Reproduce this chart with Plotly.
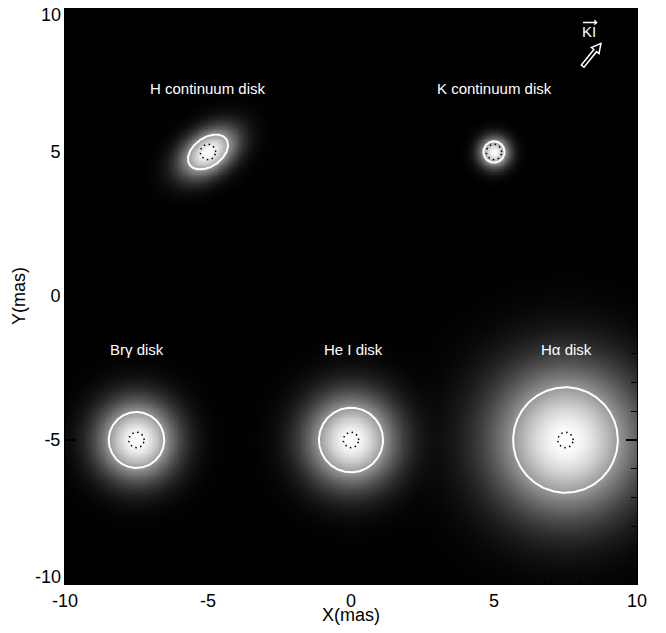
import numpy as np
import plotly.graph_objects as go

# ---- data ----
disk_names = ["H continuum disk", "K continuum disk", "Br\u03b3 disk", "He I disk", "H\u03b1 disk"]
disk_x = [-5.0, 5.0, -7.5, 0.0, 7.5]          # mas
disk_y = [5.0, 5.0, -5.0, -5.0, -5.0]         # mas
disk_major = [0.78, 0.37, 0.97, 1.12, 1.83]   # HWHM semi-major (mas)
disk_minor = [0.50, 0.37, 0.97, 1.12, 1.83]   # HWHM semi-minor (mas)
disk_pa = [35.0, 0.0, 0.0, 0.0, 0.0]          # deg from +x
star_radius = [0.27, 0.27, 0.27, 0.27, 0.27]  # dotted circle (mas)
label_x = [-5.0, 5.0, -7.5, 0.1, 7.55]
label_y = [7.2, 7.2, -1.85, -1.85, -1.85]
tick_vals = [-10, -5, 0, 5, 10]
tick_text = ["-10", "-5", "0", "5", "10"]
ki_tail = (8.10, 7.98)
ki_tip = (8.74, 8.77)

FONT = "Liberation Sans, Arial, Helvetica"

# ---- image ----
N = 401
gx = np.linspace(-10, 10, N)
gy = np.linspace(-10, 10, N)
X, Y = np.meshgrid(gx, gy)
img = np.zeros_like(X)
for cx, cy, a, b, pa in zip(disk_x, disk_y, disk_major, disk_minor, disk_pa):
    t = np.deg2rad(pa)
    u = (X - cx) * np.cos(t) + (Y - cy) * np.sin(t)
    v = -(X - cx) * np.sin(t) + (Y - cy) * np.cos(t)
    img += np.exp(-np.log(2) * ((u / a) ** 2 + (v / b) ** 2))
img = np.clip(img, 0, 1) ** 0.75

fig = go.Figure()
fig.add_trace(go.Heatmap(x=gx, y=gy, z=img, zmin=0, zmax=1,
                         colorscale=[[0, "black"], [1, "white"]],
                         showscale=False, zsmooth="best", hoverinfo="skip"))

th = np.linspace(0, 2 * np.pi, 241)
for cx, cy, a, b, pa, rs in zip(disk_x, disk_y, disk_major, disk_minor, disk_pa, star_radius):
    t = np.deg2rad(pa)
    ex = cx + a * np.cos(th) * np.cos(t) - b * np.sin(th) * np.sin(t)
    ey = cy + a * np.cos(th) * np.sin(t) + b * np.sin(th) * np.cos(t)
    fig.add_trace(go.Scatter(x=ex, y=ey, mode="lines",
                             line=dict(color="white", width=2), showlegend=False, hoverinfo="skip"))
    fig.add_trace(go.Scatter(x=cx + rs * np.cos(th), y=cy + rs * np.sin(th), mode="lines",
                             line=dict(color="black", width=1.5, dash="1.5px,3.5px"),
                             showlegend=False, hoverinfo="skip"))

for name, lx, ly in zip(disk_names, label_x, label_y):
    fig.add_annotation(x=lx, y=ly, text=name, showarrow=False,
                       font=dict(family=FONT, size=15, color="white"))

# hollow arrow (KI baseline direction)
tx, ty = ki_tail
hx, hy = ki_tip
d = np.array([hx - tx, hy - ty]); L = np.linalg.norm(d); d = d / L
n = np.array([-d[1], d[0]])
w, hw, hl = 0.06, 0.17, 0.32
tail = np.array([tx, ty]); tip = np.array([hx, hy]); neck = tip - d * hl
pts = [tail + n * w, neck + n * w, neck + n * hw, tip, neck - n * hw, neck - n * w, tail - n * w]
path = "M " + " L ".join(f"{p[0]:.4f},{p[1]:.4f}" for p in pts) + " Z"
fig.add_shape(type="path", path=path, xref="x", yref="y",
              line=dict(color="white", width=1.5), fillcolor="black")
fig.add_annotation(x=8.33, y=9.18, text="KI", showarrow=False,
                   font=dict(family=FONT, size=15, color="white"))
fig.add_annotation(x=8.62, y=9.50, ax=8.06, ay=9.50, axref="x", ayref="y", xref="x", yref="y",
                   text="", showarrow=True, arrowhead=1, arrowsize=0.7, arrowwidth=1.5,
                   arrowcolor="white")

# axis titles as paper annotations
fig.add_annotation(x=0.5, y=-0.0538, xref="paper", yref="paper", text="X(mas)", showarrow=False,
                   xanchor="center", yanchor="middle", font=dict(family=FONT, size=18, color="black"))
fig.add_annotation(x=-0.0805, y=0.5, xref="paper", yref="paper", text="Y(mas)", showarrow=False,
                   textangle=-90, xanchor="center", yanchor="middle",
                   font=dict(family=FONT, size=18, color="black"))

# y end labels nudged inward (as in reference)
fig.add_annotation(x=-0.004, y=0.988, xref="paper", yref="paper", text=tick_text[-1], showarrow=False,
                   xanchor="right", yanchor="middle", font=dict(family=FONT, size=18, color="black"))
fig.add_annotation(x=-0.004, y=0.0127, xref="paper", yref="paper", text=tick_text[0], showarrow=False,
                   xanchor="right", yanchor="middle", font=dict(family=FONT, size=18, color="black"))

axis_common = dict(range=[-10, 10], tickvals=tick_vals,
                   ticks="inside", ticklen=11, tickwidth=1.5, tickcolor="black",
                   minor=dict(dtick=1, ticks="inside", ticklen=6, tickwidth=1.2, tickcolor="black"),
                   showgrid=False, zeroline=False, showline=True, linecolor="black",
                   mirror="ticks", ticklabeloverflow="allow", automargin=False,
                   tickfont=dict(family=FONT, size=18, color="black"))
fig.update_xaxes(**axis_common, ticktext=tick_text)
fig.update_yaxes(**axis_common, ticktext=[""] + tick_text[1:-1] + [""])

fig.update_layout(width=650, height=617, margin=dict(l=57, r=21, t=0, b=41),
                  paper_bgcolor="white", plot_bgcolor="black", showlegend=False)
fig.write_html("out.html")
